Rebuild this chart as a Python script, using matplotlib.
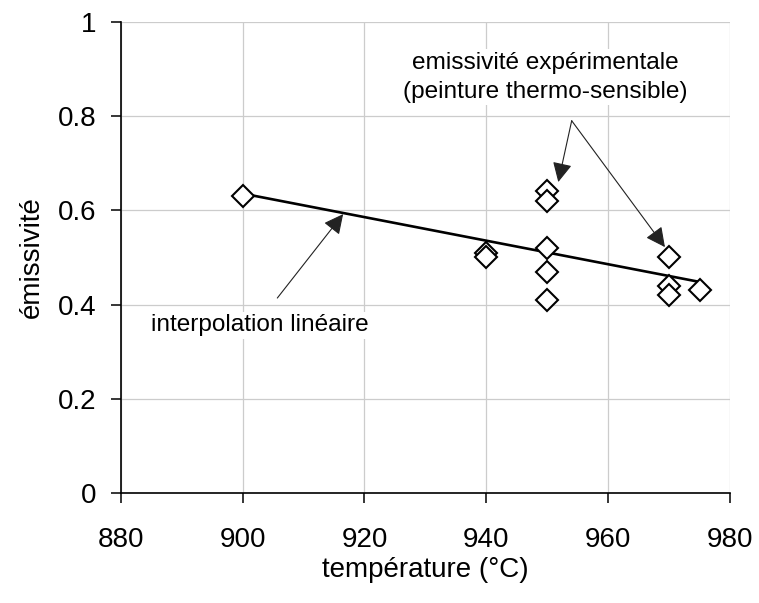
import numpy as np
import matplotlib
matplotlib.use("Agg")
import matplotlib.pyplot as plt

temp = [900, 940, 940, 950, 950, 950, 950, 950, 970, 970, 970, 975]
emis = [0.63, 0.51, 0.50, 0.64, 0.62, 0.52, 0.47, 0.41, 0.50, 0.44, 0.42, 0.43]

xticks = [880, 900, 920, 940, 960, 980]
yticks = [0, 0.2, 0.4, 0.6, 0.8, 1]

plt.rcParams["font.family"] = ["Liberation Sans", "DejaVu Sans"]

fig = plt.figure(figsize=(7.59, 6.03), dpi=100)
ax = fig.add_axes([0.159, 0.182, 0.803, 0.782])

# linear fit of the measured points
a, b = np.polyfit(temp, emis, 1)
fx = np.array([min(temp), max(temp)])
ax.plot(fx, a * fx + b, color="black", lw=1.9, zorder=3)

ax.plot(temp, emis, linestyle="none", marker="D", markersize=11.5,
	markerfacecolor="white", markeredgecolor="black", markeredgewidth=1.5, zorder=4)

ax.set_xlim(880, 980)
ax.set_ylim(0, 1)
ax.set_xticks(xticks)
ax.set_yticks(yticks)
ax.set_yticklabels(["0", "0.2", "0.4", "0.6", "0.8", "1"])
ax.grid(True, color="#cccccc", lw=0.9)
ax.set_axisbelow(True)
for s in ["top", "right"]:
	ax.spines[s].set_visible(False)
for s in ["left", "bottom"]:
	ax.spines[s].set_linewidth(1.2)
ax.tick_params(axis="both", direction="out", length=7, width=1.1, labelsize=20, colors="black")
ax.tick_params(axis="x", pad=17)
ax.tick_params(axis="y", pad=10.5)

ax.set_xlabel("température (°C)", fontsize=20, labelpad=3)
ax.set_ylabel("émissivité", fontsize=20, labelpad=9)

arrow = dict(arrowstyle="-|>", mutation_scale=30, lw=0.8, color="#222222",
	shrinkA=0, shrinkB=0)

ax.text(949.6, 0.882, "emissivité expérimentale\n(peinture thermo-sensible)",
	ha="center", va="center", fontsize=17.6, linespacing=1.4,
	bbox=dict(facecolor="white", edgecolor="none", pad=2), zorder=5)
ax.annotate("", xy=(951.8, 0.66), xytext=(954.0, 0.79), arrowprops=arrow, zorder=5)
ax.annotate("", xy=(969.3, 0.522), xytext=(954.0, 0.79), arrowprops=arrow, zorder=5)

ax.text(902.9, 0.356, "interpolation linéaire", ha="center", va="center", fontsize=17.6,
	bbox=dict(facecolor="white", edgecolor="none", pad=2), zorder=5)
ax.annotate("", xy=(916.5, 0.592), xytext=(905.7, 0.414), arrowprops=arrow, zorder=5)

plt.savefig("out.png", dpi=100)
plt.close()
